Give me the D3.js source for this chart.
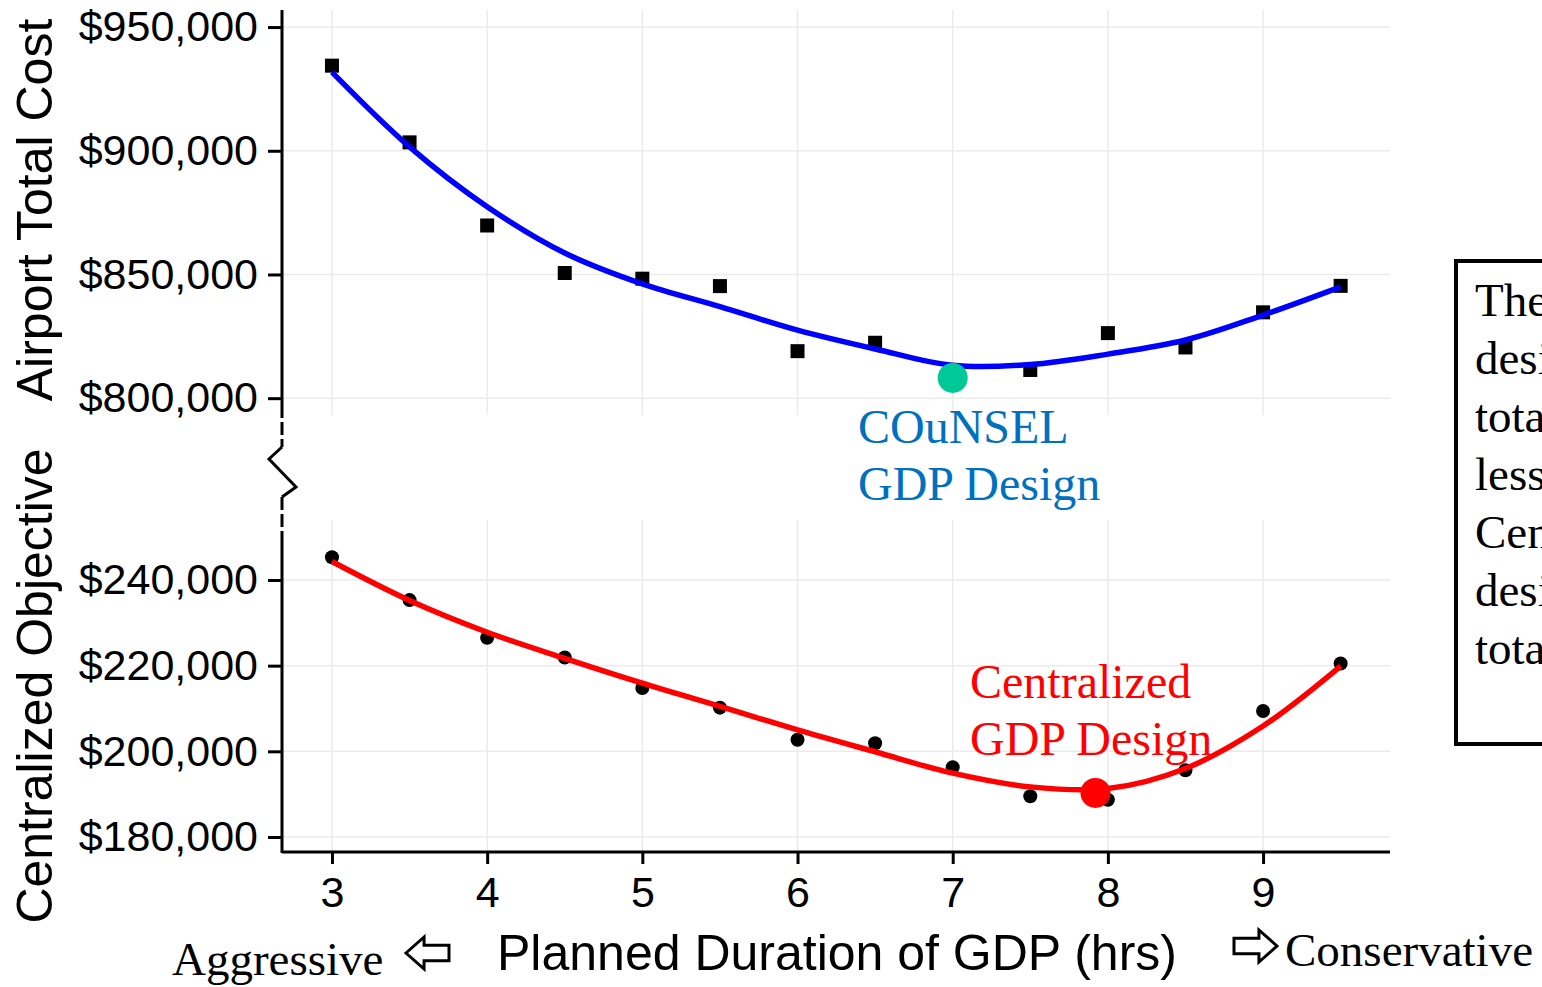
<!DOCTYPE html>
<html>
<head>
<meta charset="utf-8">
<script src="https://d3js.org/d3.v7.min.js"></script>
<style>
  body { margin: 0; background: #fff; }
  .sans { font-family: "Liberation Sans", Arial, sans-serif; }
  .serif { font-family: "Liberation Serif", "Times New Roman", serif; }
  .grid line { stroke: #ebebeb; stroke-width: 1.5; }
</style>
</head>
<body>
<svg width="1542" height="987"></svg>
<script>
// planned GDP duration (hrs)
const durations = [3, 3.5, 4, 4.5, 5, 5.5, 6, 6.5, 7, 7.5, 8, 8.5, 9, 9.5];
// airport total cost, COuNSEL design (squares) and its smoothed fit
const airportCost = [934400, 903400, 869800, 850600, 848300, 845300, 819000, 822400, 808200, 811400, 826300, 820500, 834700, 845400];
const airportFit  = [931800, 901600, 877400, 858700, 846200, 837000, 827500, 819900, 813300, 813600, 817800, 823500, 833600, 845000];
// centralized objective (dots) and its smoothed fit
const centralObj = [245300, 235300, 226500, 221900, 214800, 210200, 202700, 201900, 196300, 189500, 188700, 195600, 209400, 220500];
const centralFit = [244300, 235200, 227800, 221700, 215900, 210500, 205000, 199900, 194900, 191700, 191300, 196000, 205900, 219900];
// highlighted designs
const counselBest = { x: 7, y: 808200 };
const centralBest = { x: 7.92, y: 190300 };

const xTicks = [3, 4, 5, 6, 7, 8, 9];
const topTicks = [800000, 850000, 900000, 950000];
const botTicks = [180000, 200000, 220000, 240000];
const boxLines = ["The COuNSEL", "design's", "total cost", "less than", "Centralized", "design's", "total cost"];

const svg = d3.select("svg");
const left = 282, right = 1390;
const x = d3.scaleLinear().domain([2.678, 9.818]).range([left, right]);
const yTop = d3.scaleLinear().domain([793200, 956900]).range([415, 10]);
const yBot = d3.scaleLinear().domain([176500, 254000]).range([852, 520]);
const money = d3.format("$,");

function grid(ys, ticks, y0, y1) {
  const g = svg.append("g").attr("class", "grid");
  g.selectAll(".h").data(ticks).enter().append("line")
    .attr("x1", left).attr("x2", right)
    .attr("y1", d => ys(d)).attr("y2", d => ys(d));
  g.selectAll(".v").data(xTicks).enter().append("line")
    .attr("x1", d => x(d)).attr("x2", d => x(d))
    .attr("y1", y0).attr("y2", y1);
}
grid(yTop, topTicks, 10, 415);
grid(yBot, botTicks, 520, 852);

// y axes
function yAxis(ys, ticks) {
  const g = svg.append("g").attr("class", "sans")
    .attr("transform", "translate(" + left + ",0)")
    .call(d3.axisLeft(ys).tickValues(ticks).tickFormat(money).tickSize(14).tickPadding(10));
  g.select(".domain").remove();
  g.selectAll(".tick line").attr("stroke", "#000").attr("stroke-width", 3);
  g.selectAll(".tick text").attr("font-size", 43).attr("fill", "#000");
}
yAxis(yTop, topTicks);
yAxis(yBot, botTicks);

// axis lines with broken section
svg.append("line").attr("x1", left).attr("x2", left).attr("y1", 10).attr("y2", 405)
  .attr("stroke", "#000").attr("stroke-width", 3);
svg.append("line").attr("x1", left).attr("x2", left).attr("y1", 532).attr("y2", 853)
  .attr("stroke", "#000").attr("stroke-width", 3);
svg.append("line").attr("x1", left).attr("x2", left).attr("y1", 405).attr("y2", 447)
  .attr("stroke", "#000").attr("stroke-width", 3).attr("stroke-dasharray", "13,4");
svg.append("line").attr("x1", left).attr("x2", left).attr("y1", 497).attr("y2", 532)
  .attr("stroke", "#000").attr("stroke-width", 3).attr("stroke-dasharray", "13,4");
svg.append("path")
  .attr("d", "M" + left + ",447 L" + (left - 13) + ",459 L" + (left + 14) + ",487 L" + left + ",497")
  .attr("fill", "none").attr("stroke", "#000").attr("stroke-width", 3);

// x axis
const xg = svg.append("g").attr("class", "sans")
  .attr("transform", "translate(0,852)")
  .call(d3.axisBottom(x).tickValues(xTicks).tickFormat(d3.format("d")).tickSize(12).tickPadding(12));
xg.select(".domain").attr("stroke", "#000").attr("stroke-width", 3).attr("d", "M" + left + ",0H" + right);
xg.selectAll(".tick line").attr("stroke", "#000").attr("stroke-width", 3);
xg.selectAll(".tick text").attr("font-size", 43).attr("fill", "#000");

// top panel: squares + fit
svg.append("g").selectAll("rect").data(durations).enter().append("rect")
  .attr("x", (d, i) => x(d) - 7).attr("y", (d, i) => yTop(airportCost[i]) - 7)
  .attr("width", 14).attr("height", 14).attr("fill", "#000");
const lineTop = d3.line().x(d => x(d[0])).y(d => yTop(d[1])).curve(d3.curveCatmullRom);
svg.append("path").datum(durations.map((d, i) => [d, airportFit[i]]))
  .attr("d", lineTop).attr("fill", "none").attr("stroke", "#0000ff").attr("stroke-width", 5.5);
svg.append("circle").attr("cx", x(counselBest.x)).attr("cy", yTop(counselBest.y)).attr("r", 15)
  .attr("fill", "#00c896");

// bottom panel: dots + fit
svg.append("g").selectAll("circle").data(durations).enter().append("circle")
  .attr("cx", d => x(d)).attr("cy", (d, i) => yBot(centralObj[i])).attr("r", 7).attr("fill", "#000");
const lineBot = d3.line().x(d => x(d[0])).y(d => yBot(d[1])).curve(d3.curveCatmullRom);
svg.append("path").datum(durations.map((d, i) => [d, centralFit[i]]))
  .attr("d", lineBot).attr("fill", "none").attr("stroke", "#ff0000").attr("stroke-width", 5.5);
svg.append("circle").attr("cx", x(centralBest.x)).attr("cy", yBot(centralBest.y)).attr("r", 15)
  .attr("fill", "#ff0000");

// annotations
function label(lines, xPos, yPos, color) {
  const t = svg.append("text").attr("class", "serif").attr("font-size", 48).attr("fill", color);
  lines.forEach((s, i) => t.append("tspan").attr("x", xPos).attr("y", yPos + i * 57).text(s));
}
label(["COuNSEL", "GDP Design"], 858, 443, "#0070c0");
label(["Centralized", "GDP Design"], 970, 698, "#ff0000");

// axis titles
svg.append("text").attr("class", "sans").attr("font-size", 50).attr("text-anchor", "middle")
  .attr("transform", "translate(52,210) rotate(-90)").text("Airport Total Cost");
svg.append("text").attr("class", "sans").attr("font-size", 50).attr("text-anchor", "middle")
  .attr("transform", "translate(52,686) rotate(-90)").text("Centralized Objective");
svg.append("text").attr("class", "sans").attr("font-size", 50).attr("x", 497).attr("y", 970)
  .text("Planned Duration of GDP (hrs)");
svg.append("text").attr("class", "serif").attr("font-size", 47).attr("x", 172).attr("y", 975)
  .text("Aggressive");
svg.append("text").attr("class", "serif").attr("font-size", 47).attr("x", 1285).attr("y", 966)
  .text("Conservative");

// outline arrows
function arrow(x0, y0, w, h, dir) {
  const hw = h * 0.5, head = w * 0.42, shaft = h * 0.24;
  const pts = [[0, 0], [head, -hw], [head, -shaft], [w, -shaft], [w, shaft], [head, shaft], [head, hw]];
  svg.append("polygon")
    .attr("points", pts.map(p => [x0 + dir * p[0], y0 + p[1]].join(",")).join(" "))
    .attr("fill", "#fff").attr("stroke", "#000").attr("stroke-width", 3);
}
arrow(406, 953, 43, 32, 1);
arrow(1277, 946, 43, 32, -1);

// side note box (cut off at page edge, as in the original figure)
svg.append("rect").attr("x", 1456).attr("y", 261).attr("width", 200).attr("height", 483)
  .attr("fill", "none").attr("stroke", "#000").attr("stroke-width", 4);
const note = svg.append("text").attr("class", "serif").attr("font-size", 47).attr("fill", "#000");
boxLines.forEach((s, i) => note.append("tspan").attr("x", 1475).attr("y", 316 + i * 58).text(s));
</script>
</body>
</html>
